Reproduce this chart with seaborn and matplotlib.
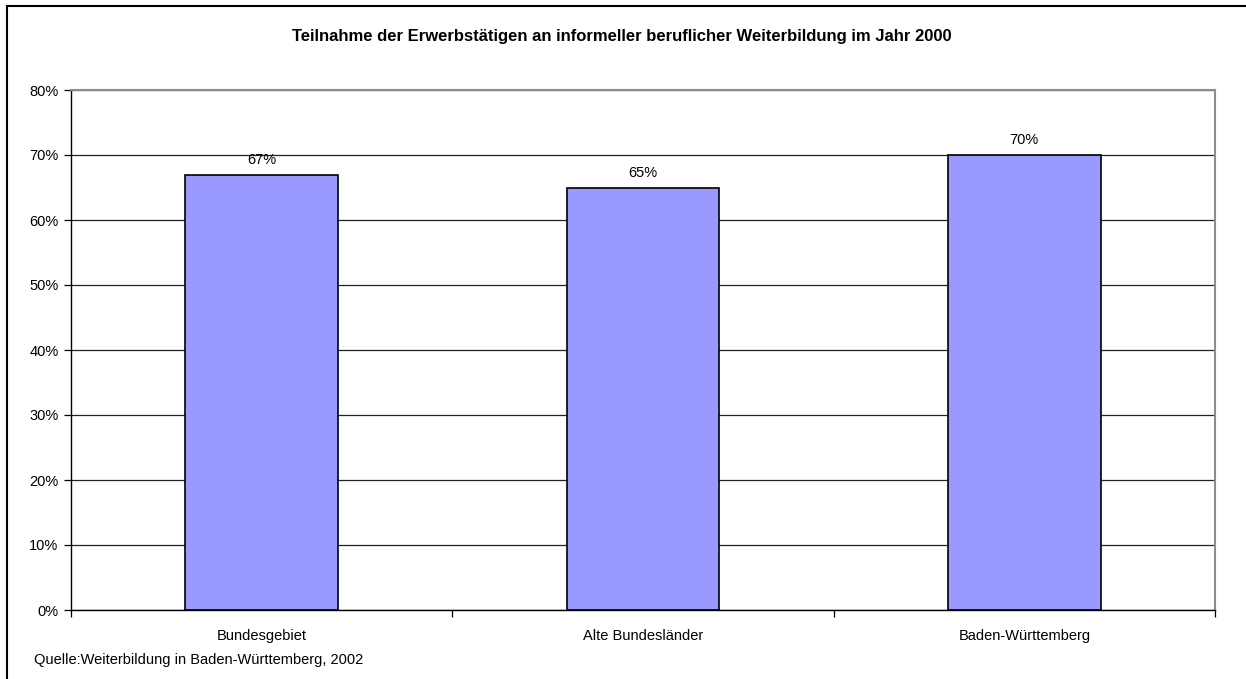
import pandas as pd
import seaborn as sns
import matplotlib.pyplot as plt
from matplotlib.patches import Rectangle
from matplotlib.ticker import FixedLocator, PercentFormatter

regions = ["Bundesgebiet", "Alte Bundesländer", "Baden-Württemberg"]
share = [67, 65, 70]
title = "Teilnahme der Erwerbstätigen an informeller beruflicher Weiterbildung im Jahr 2000"
source = "Quelle:Weiterbildung in Baden-Württemberg, 2002"

df = pd.DataFrame({"region": regions, "share": share})

sns.set_theme(style="white")
plt.rcParams["font.family"] = ["Liberation Sans", "DejaVu Sans"]

fig = plt.figure(figsize=(12.46, 6.79), dpi=100)
ax = fig.add_axes([71 / 1246, 1 - 610 / 679, (1215 - 71) / 1246, (610 - 90) / 679])

sns.barplot(data=df, x="region", y="share", color="#9999ff", width=0.4,
            edgecolor="black", linewidth=1.2, saturation=1, ax=ax)

ax.set_ylim(0, 80)
ax.set_xlim(-0.5, 2.5)
ax.set_yticks(range(0, 81, 10))
ax.yaxis.set_major_formatter(PercentFormatter(decimals=0))
ax.yaxis.grid(True, color="#222222", linewidth=0.9)
ax.set_axisbelow(True)
ax.set_xlabel("")
ax.set_ylabel("")

ax.xaxis.set_minor_locator(FixedLocator([-0.5, 0.5, 1.5, 2.5]))
ax.tick_params(axis="x", which="major", length=0, pad=14, labelsize=10.5)
ax.tick_params(axis="x", which="minor", length=5, width=0.9, color="black", bottom=True)
ax.tick_params(axis="y", length=5, width=0.9, color="black", left=True, labelsize=10.5, pad=4)
for lbl in ax.get_xticklabels() + ax.get_yticklabels():
    lbl.set_color("black")

for side in ["left", "bottom"]:
    ax.spines[side].set_color("black")
    ax.spines[side].set_linewidth(1)
for side in ["top", "right"]:
    ax.spines[side].set_visible(True)
    ax.spines[side].set_color("#8c8c8c")
    ax.spines[side].set_linewidth(1.5)

for i, v in enumerate(share):
    ax.text(i, v + 1.2, f"{v}%", ha="center", va="bottom", fontsize=10.5, color="black")

fig.text(622 / 1246, 1 - 37 / 679, title, ha="center", va="center", fontsize=12,
         fontweight="bold", color="black")
fig.text(34 / 1246, 1 - 660 / 679, source, ha="left", va="center", fontsize=10.5, color="black")

fig.patches.append(Rectangle((7 / 1246, -0.1), 1.2, 1 - 6 / 679 + 0.1, transform=fig.transFigure,
                             fill=False, edgecolor="black", linewidth=1.5))

fig.savefig("out.png", dpi=100, facecolor="white")
